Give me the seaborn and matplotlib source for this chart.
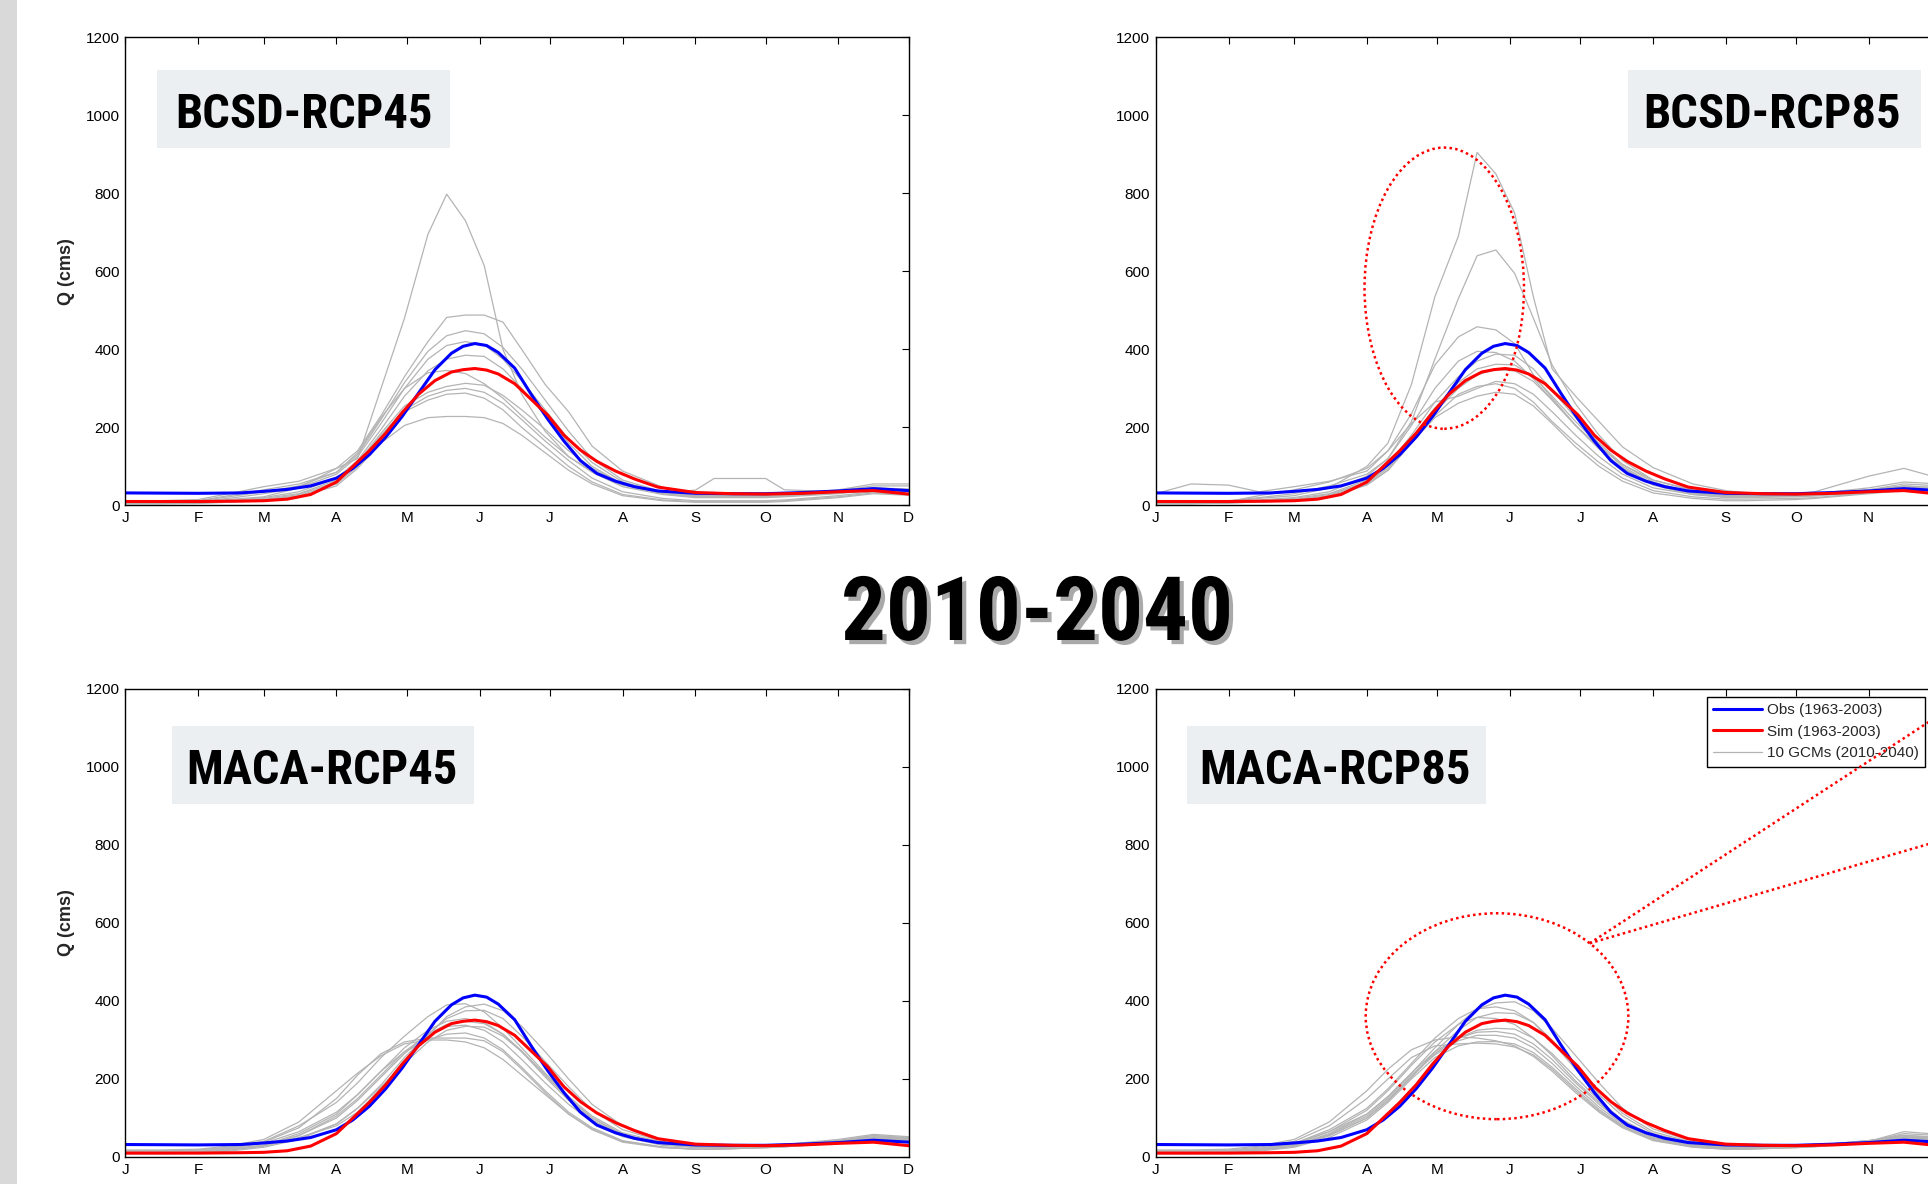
import numpy as np
import pandas as pd
import matplotlib
matplotlib.use('Agg')
import matplotlib.pyplot as plt
import matplotlib.patheffects as pe
from matplotlib.patches import Ellipse, Rectangle
from matplotlib import font_manager
import seaborn as sns

sns.set_theme(style='white')

installed = {f.name for f in font_manager.fontManager.ttflist}
narrow = next((n for n in ['Liberation Sans Narrow', 'Roboto Condensed', 'DejaVu Sans Condensed']
               if n in installed), None)
plt.rcParams['font.family'] = ['Liberation Sans', 'DejaVu Sans']

# month axis
month_days = [1, 32, 60, 91, 121, 152, 182, 213, 244, 274, 305, 335]
month_labels = ['J', 'F', 'M', 'A', 'M', 'J', 'J', 'A', 'S', 'O', 'N', 'D']

# observed and simulated hydrograph (same in every panel)
obs_days = [1, 32, 50, 60, 70, 80, 91, 98, 105, 112, 119, 126, 133, 140, 145, 150, 155, 160,
            167, 174, 181, 188, 195, 202, 210, 218, 228, 244, 260, 274, 290, 305, 320, 335]
obs_q = [32, 31, 32, 36, 41, 50, 70, 95, 130, 175, 228, 288, 348, 390, 408, 415, 410, 392,
         352, 285, 222, 165, 115, 82, 62, 48, 37, 31, 30, 30, 33, 37, 43, 38]
sim_q = [10, 10, 11, 12, 16, 28, 60, 100, 140, 185, 238, 285, 320, 342, 348, 351, 347, 337,
         312, 272, 232, 180, 142, 113, 88, 68, 47, 33, 30, 29, 31, 35, 38, 29]

# 10 GCM runs (2010-2040)
gcm_days = [1, 16, 32, 45, 60, 75, 91, 100, 110, 120, 130, 138, 146, 154, 162, 170, 180, 190,
            200, 213, 230, 244, 252, 274, 282, 305, 320, 335]

bcsd45_gcms = [
    [8, 8, 10, 15, 22, 45, 95, 120, 300, 480, 695, 798, 730, 615, 400, 285, 190, 125, 88, 52, 32, 39, 69, 69, 40, 35, 45, 40],
    [12, 12, 15, 30, 48, 62, 95, 140, 230, 330, 420, 482, 488, 488, 470, 400, 310, 240, 152, 88, 47, 30, 28, 28, 28, 40, 55, 55],
    [10, 10, 12, 25, 40, 55, 85, 130, 220, 315, 395, 435, 448, 440, 405, 350, 270, 190, 120, 65, 35, 25, 25, 25, 27, 38, 50, 50],
    [8, 8, 10, 18, 30, 45, 80, 125, 210, 300, 375, 410, 420, 412, 375, 320, 245, 170, 110, 60, 33, 25, 24, 24, 26, 35, 45, 42],
    [6, 6, 8, 12, 20, 35, 70, 115, 195, 280, 345, 375, 385, 382, 350, 300, 230, 160, 100, 55, 30, 22, 22, 22, 24, 33, 42, 38],
    [10, 10, 12, 22, 35, 50, 85, 135, 225, 300, 340, 346, 338, 312, 275, 230, 175, 125, 85, 48, 28, 20, 20, 20, 22, 30, 40, 35],
    [6, 6, 8, 12, 18, 30, 65, 110, 185, 255, 290, 305, 313, 308, 282, 245, 195, 140, 95, 55, 30, 22, 22, 22, 24, 32, 38, 34],
    [5, 5, 7, 10, 15, 28, 60, 105, 180, 245, 280, 295, 300, 290, 262, 220, 165, 115, 70, 35, 18, 12, 12, 12, 14, 25, 35, 30],
    [5, 5, 6, 9, 14, 25, 55, 100, 175, 240, 270, 285, 288, 275, 245, 200, 150, 100, 60, 28, 14, 10, 10, 10, 12, 22, 32, 28],
    [4, 4, 5, 8, 12, 22, 50, 95, 160, 205, 225, 228, 228, 225, 210, 180, 135, 90, 55, 25, 12, 8, 8, 8, 10, 20, 30, 26],
]

bcsd85_gcms = [
    [8, 8, 10, 18, 25, 45, 100, 160, 310, 535, 690, 905, 850, 750, 535, 350, 280, 215, 150, 97, 55, 38, 33, 30, 30, 40, 55, 50],
    [10, 10, 12, 20, 30, 50, 80, 120, 215, 375, 530, 640, 655, 595, 480, 360, 260, 180, 115, 65, 38, 30, 28, 28, 28, 38, 50, 45],
    [6, 6, 10, 25, 40, 60, 95, 140, 235, 360, 432, 458, 450, 415, 335, 275, 205, 150, 105, 65, 40, 30, 28, 28, 30, 45, 60, 55],
    [8, 8, 10, 14, 20, 35, 75, 120, 205, 300, 370, 395, 392, 370, 325, 270, 205, 145, 95, 55, 32, 25, 25, 25, 27, 40, 50, 45],
    [5, 5, 8, 12, 18, 30, 65, 105, 180, 265, 330, 370, 388, 385, 350, 295, 225, 160, 105, 60, 32, 25, 25, 25, 28, 38, 48, 42],
    [6, 6, 8, 11, 15, 28, 60, 100, 170, 250, 315, 350, 362, 360, 330, 280, 215, 155, 100, 55, 30, 22, 22, 24, 26, 36, 44, 40],
    [5, 5, 7, 10, 14, 25, 58, 95, 165, 240, 300, 335, 348, 345, 318, 270, 205, 145, 95, 52, 28, 20, 20, 22, 24, 34, 42, 38],
    [5, 5, 6, 9, 12, 22, 55, 90, 160, 230, 285, 305, 312, 300, 265, 215, 160, 110, 70, 38, 22, 16, 16, 18, 20, 32, 40, 36],
    [4, 4, 6, 9, 12, 22, 52, 90, 160, 225, 262, 280, 290, 285, 255, 210, 150, 100, 62, 32, 18, 12, 12, 15, 18, 30, 38, 34],
    [30, 55, 52, 35, 48, 62, 88, 140, 210, 265, 280, 300, 318, 312, 285, 240, 180, 125, 80, 45, 28, 22, 22, 30, 35, 75, 95, 70],
]

maca45_gcms = [
    [15, 15, 18, 25, 40, 80, 140, 190, 255, 310, 360, 390, 393, 372, 330, 280, 215, 155, 105, 62, 38, 30, 28, 30, 32, 42, 55, 48],
    [12, 12, 15, 20, 30, 50, 80, 115, 175, 245, 312, 360, 385, 392, 375, 335, 270, 200, 135, 80, 45, 30, 28, 30, 32, 45, 58, 52],
    [10, 10, 12, 18, 28, 48, 85, 125, 185, 255, 315, 355, 375, 376, 355, 310, 245, 180, 120, 70, 40, 28, 26, 28, 30, 40, 52, 48],
    [14, 14, 16, 22, 35, 65, 115, 160, 220, 280, 325, 348, 355, 345, 315, 270, 205, 145, 95, 55, 33, 26, 25, 28, 30, 40, 50, 45],
    [10, 10, 12, 18, 28, 55, 100, 145, 205, 265, 315, 340, 348, 342, 315, 272, 210, 150, 100, 58, 34, 26, 25, 28, 30, 42, 55, 50],
    [12, 12, 14, 20, 30, 55, 105, 150, 210, 270, 315, 335, 338, 325, 295, 250, 190, 135, 90, 52, 30, 24, 23, 26, 28, 38, 48, 44],
    [8, 8, 10, 15, 25, 45, 85, 125, 180, 240, 295, 325, 335, 333, 310, 270, 210, 150, 100, 58, 34, 25, 24, 27, 29, 40, 50, 46],
    [10, 10, 12, 18, 30, 60, 110, 160, 220, 270, 300, 315, 318, 305, 275, 230, 170, 115, 75, 42, 26, 20, 20, 24, 26, 36, 45, 40],
    [16, 16, 18, 24, 38, 75, 150, 210, 265, 295, 305, 305, 305, 298, 270, 225, 165, 110, 70, 38, 24, 20, 20, 24, 26, 36, 44, 40],
    [18, 18, 20, 28, 45, 90, 170, 215, 260, 290, 300, 300, 295, 280, 250, 210, 160, 110, 72, 40, 25, 20, 20, 24, 27, 38, 46, 42],
]

maca85_gcms = [
    [12, 12, 15, 22, 35, 65, 110, 155, 215, 280, 340, 380, 395, 398, 375, 330, 260, 190, 125, 72, 40, 28, 26, 28, 30, 42, 52, 48],
    [14, 14, 16, 22, 35, 70, 125, 175, 240, 305, 355, 380, 385, 375, 345, 295, 225, 160, 105, 60, 35, 25, 24, 27, 30, 42, 55, 50],
    [10, 10, 12, 18, 28, 55, 100, 145, 205, 270, 325, 358, 370, 368, 345, 300, 235, 170, 112, 65, 37, 26, 25, 28, 30, 40, 50, 46],
    [12, 12, 15, 20, 32, 65, 120, 170, 235, 295, 340, 358, 355, 340, 305, 260, 195, 140, 92, 55, 33, 25, 24, 27, 30, 42, 56, 50],
    [10, 10, 12, 18, 28, 55, 100, 145, 205, 265, 305, 325, 330, 328, 305, 265, 205, 145, 95, 55, 32, 24, 23, 27, 29, 40, 52, 48],
    [12, 12, 14, 20, 30, 60, 110, 155, 215, 270, 305, 320, 322, 315, 290, 250, 190, 135, 88, 50, 30, 23, 22, 26, 28, 38, 48, 44],
    [10, 10, 12, 18, 28, 58, 105, 150, 210, 262, 298, 312, 312, 305, 280, 240, 182, 128, 84, 48, 29, 22, 22, 26, 28, 40, 60, 55],
    [8, 8, 10, 15, 25, 50, 95, 140, 200, 255, 285, 295, 296, 290, 268, 230, 175, 122, 80, 45, 27, 21, 21, 25, 27, 38, 50, 46],
    [16, 16, 18, 25, 40, 80, 150, 200, 255, 285, 290, 292, 290, 282, 262, 225, 170, 118, 78, 44, 26, 20, 20, 24, 26, 36, 46, 42],
    [18, 18, 20, 28, 45, 90, 170, 225, 275, 300, 308, 305, 298, 285, 258, 220, 165, 115, 75, 42, 25, 20, 20, 24, 27, 40, 65, 58],
]

panel_titles = ['BCSD-RCP45', 'BCSD-RCP85', 'MACA-RCP45', 'MACA-RCP85']
legend_labels = ['Obs (1963-2003)', 'Sim (1963-2003)', '10 GCMs (2010-2040)']
period_title = '2010-2040'

# red dotted call-outs (day, Q, width in days, height in cms)
bcsd85_ellipse = (124, 557, 68, 721)
maca85_ellipse = (146.5, 361, 112, 528)
callout_start = (186, 548)
callout_ends = [(345, 1172), (345, 828)]

W, H = 1928, 1184
fig = plt.figure(figsize=(W / 100, H / 100), dpi=100)
fig.add_artist(Rectangle((0, 0), 17 / W, 1, transform=fig.transFigure, color='#d9d9d9', lw=0))

axw, axh = 783.3 / W, 468 / H
positions = [(125.4 / W, 1 - 505.4 / H), (1155.8 / W, 1 - 505.4 / H),
             (125.4 / W, 1 - 1157 / H), (1155.8 / W, 1 - 1157 / H)]
# label box (x0, y0, w, h in axes fraction) and text anchor
boxes = [(0.040, 0.763, 0.374, 0.167), (0.603, 0.763, 0.374, 0.167),
         (0.059, 0.754, 0.386, 0.166), (0.040, 0.754, 0.381, 0.166)]
text_pos = [(0.2274, 0.807), (0.7873, 0.807), (0.2505, 0.798), (0.2288, 0.798)]

head_font = dict(family=narrow, fontsize=35) if narrow else dict(fontsize=27)

axes = []
for i, gcms in enumerate([bcsd45_gcms, bcsd85_gcms, maca45_gcms, maca85_gcms]):
    ax = fig.add_axes([positions[i][0], positions[i][1], axw, axh])
    long = pd.DataFrame({
        'day': np.tile(gcm_days, len(gcms)),
        'q': np.concatenate(gcms),
        'gcm': np.repeat(np.arange(len(gcms)), len(gcm_days)),
    })
    sns.lineplot(data=long, x='day', y='q', units='gcm', estimator=None,
                 color='#b4b4b4', lw=0.9, ax=ax, legend=False)
    sns.lineplot(x=obs_days, y=obs_q, color='#0000ff', lw=2.2, ax=ax, legend=False)
    sns.lineplot(x=obs_days, y=sim_q, color='#ff0000', lw=2.2, ax=ax, legend=False)

    ax.set_xlim(1, 335)
    ax.set_ylim(0, 1200)
    ax.set_xticks(month_days)
    ax.set_xticklabels(month_labels)
    ax.set_yticks(range(0, 1201, 200))
    ax.tick_params(direction='in', length=5, width=0.8, top=True, right=True,
                   labelsize=11, pad=4, colors='black')
    for s in ax.spines.values():
        s.set_color('black')
        s.set_linewidth(1.0)
    ax.set_xlabel('')
    ax.set_ylabel('')
    if i % 2 == 0:
        ax.set_ylabel('Q (cms)', fontsize=13, fontweight='bold')
        ax.yaxis.set_label_coords(-0.0643, 0.5)
    else:
        # the right-hand panels run past the slide edge: the last month label is off-page
        ax.get_xticklabels()[-1].set_visible(False)

    bx = boxes[i]
    ax.add_patch(Rectangle((bx[0], bx[1]), bx[2], bx[3], transform=ax.transAxes,
                           facecolor='#eceff2', edgecolor='none', zorder=1, clip_on=False))
    ax.text(text_pos[i][0], text_pos[i][1], panel_titles[i], transform=ax.transAxes,
            ha='center', va='baseline', fontweight='bold', color='black', zorder=5, **head_font)
    axes.append(ax)

# legend in the lower-right panel
ax = axes[3]
lines = ax.get_lines()
handles = [lines[10], lines[11], lines[0]]
leg = ax.legend(handles, legend_labels, loc='upper left', bbox_to_anchor=(1707 / W, 1 - 697 / H),
                bbox_transform=fig.transFigure, fontsize=11, frameon=True, fancybox=False,
                edgecolor='black', framealpha=1, borderpad=0.4, labelspacing=0.5,
                handlelength=3.2, handletextpad=0.3, borderaxespad=0)
leg.get_frame().set_linewidth(1.0)

dots = (0, (1, 1.3))
cx, cy, ew, eh = bcsd85_ellipse
axes[1].add_patch(Ellipse((cx, cy), ew, eh, fill=False, edgecolor='red', lw=1.8, ls=dots, zorder=6))
cx, cy, ew, eh = maca85_ellipse
axes[3].add_patch(Ellipse((cx, cy), ew, eh, fill=False, edgecolor='red', lw=1.8, ls=dots, zorder=6))
for end in callout_ends:
    axes[3].plot([callout_start[0], end[0]], [callout_start[1], end[1]], color='red', lw=1.8,
                 ls=dots, clip_on=False, zorder=6)

title_kw = dict(family=narrow) if narrow else {}
fig.text(1037 / W, 1 - 640 / H, period_title, ha='center', va='baseline', fontsize=64,
         fontweight='bold', color='black',
         path_effects=[pe.withSimplePatchShadow(offset=(3, -3), shadow_rgbFace='#555555', alpha=0.5)],
         **title_kw)

fig.savefig('out.png', dpi=100)
